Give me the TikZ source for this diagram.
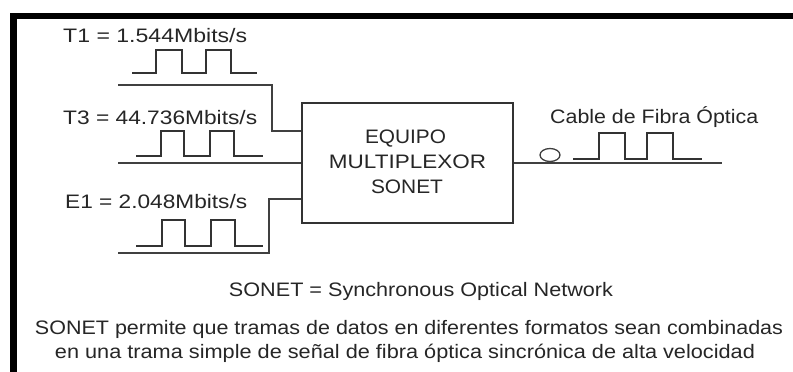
\documentclass[tikz,border=0pt]{standalone}
\usepackage{fontspec}
\usepackage{graphicx}
\setmainfont{Liberation Sans}
\newcommand{\fw}[2]{\resizebox{#1pt}{\height}{#2}}
\begin{document}
\begin{tikzpicture}[x=1pt,y=-1pt,
  txt/.style={inner sep=0pt, text=black!85, font=\fontsize{19.5}{22}\selectfont},
  wire/.style={draw=black!75, line width=1.3pt},
  pulse/.style={draw=black!80, line width=1.3pt},
  muxbox/.style={draw=black!80, line width=1.4pt, minimum width=211pt, minimum height=120pt, inner sep=0pt}]
\useasboundingbox (0,0) rectangle (793,372);
\fill[white] (0,0) rectangle (793,372);
% frame
\fill[black] (10,13) rectangle (793,19);
\fill[black] (10,13) rectangle (17,372);
% box
\node[muxbox] (mux) at (407.5,163) {};
\node[txt, anchor=base] (l1) at (405.5,143) {\fw{81}{EQUIPO}};
\node[txt, anchor=base] (l2) at (407.5,168) {\fw{157}{MULTIPLEXOR}};
\node[txt, anchor=base] (l3) at (407,193) {\fw{72}{SONET}};
% labels
\node[txt, anchor=base west] (t1lab) at (63,42) {\fw{184}{T1 = 1.544Mbits/s}};
\node[txt, anchor=base west] (t3lab) at (63,124) {\fw{194}{T3 = 44.736Mbits/s}};
\node[txt, anchor=base west] (e1lab) at (65,208) {\fw{182}{E1 = 2.048Mbits/s}};
\node[txt, anchor=base west] (cable) at (550,123) {\fw{208}{Cable de Fibra Óptica}};
% input wires
\coordinate (t1in) at (118,85);
\coordinate (t1y) at (0,131);
\coordinate (t3in) at (118,163);
\coordinate (e1in) at (118,253);
\coordinate (e1y) at (0,199);
\coordinate (fiberend) at (722,163);
\draw[wire] (t1in) -| (272,131) -- (mux.west |- t1y);
\draw[wire] (t3in) -- (mux.west);
\draw[wire] (e1in) -| (269,199) -- (mux.west |- e1y);
\draw[wire] (mux.east) -- (fiberend);
% pulses
\draw[pulse] (132,73) -- (156,73) -- (156,50) -- (182,50) -- (182,73) -- (206,73) -- (206,50) -- (231,50) -- (231,73) -- (257,73);
\draw[pulse] (136,156) -- (161,156) -- (161,131) -- (184,131) -- (184,156) -- (210,156) -- (210,131) -- (234,131) -- (234,156) -- (263,156);
\draw[pulse] (136,246) -- (162,246) -- (162,220) -- (185,220) -- (185,246) -- (211,246) -- (211,220) -- (235,220) -- (235,246) -- (263,246);
\draw[pulse] (573,159) -- (599,159) -- (599,133) -- (625,133) -- (625,159) -- (647,159) -- (647,133) -- (673,133) -- (673,159) -- (702,159);
% lens
\draw[draw=black!75, line width=1.3pt] (550,155) ellipse [x radius=10, y radius=6.5];
% bottom text
\node[txt, anchor=base] (b1) at (421,296) {\fw{384}{SONET = Synchronous Optical Network}};
\node[txt, anchor=base] (b2) at (409,334) {\fw{748}{SONET permite que tramas de datos en diferentes formatos sean combinadas}};
\node[txt, anchor=base] (b3) at (405,358) {\fw{700}{en una trama simple de señal de fibra óptica sincrónica de alta velocidad}};
\end{tikzpicture}
\end{document}
